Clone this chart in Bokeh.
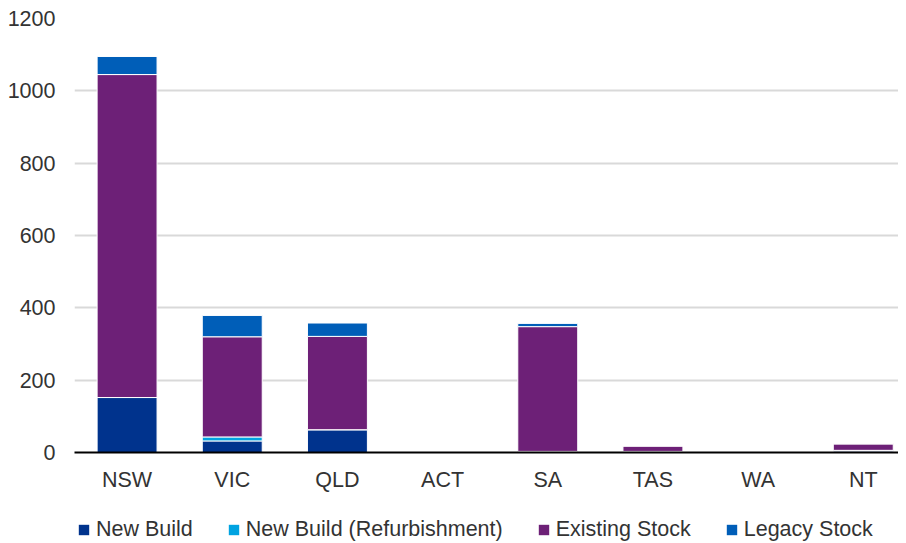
from bokeh.plotting import figure
from bokeh.layouts import column
from bokeh.models import Range1d, FixedTicker, Legend, LegendItem, ColumnDataSource
from bokeh.embed import file_html
from bokeh.resources import INLINE

categories = ["NSW", "VIC", "QLD", "ACT", "SA", "TAS", "WA", "NT"]
new_build = [152, 32, 63, 0, 3, 3, 0, 4]
new_build_refurb = [0, 11, 0, 0, 0, 0, 0, 2]
existing_stock = [893, 277, 258, 0, 345, 15, 0, 18]
legacy_stock = [50, 59, 37, 0, 9, 0, 0, 0]
series_names = ["New Build", "New Build (Refurbishment)", "Existing Stock", "Legacy Stock"]
y_ticks = [0, 200, 400, 600, 800, 1000, 1200]

colors = ["#00338D", "#00A3E1", "#6D2077", "#005EB8"]
keys = ["nb", "nbr", "ex", "lg"]
xs = list(range(len(categories)))

source = ColumnDataSource(dict(x=xs, nb=new_build, nbr=new_build_refurb,
                               ex=existing_stock, lg=legacy_stock))

FONT = "Liberation Sans"
TEXT_COLOR = "#333333"
FS = "21.5px"

p = figure(width=898, height=498, output_backend="svg", toolbar_location=None,
           x_range=Range1d(-0.5, 7.335), y_range=Range1d(0, 1200),
           min_border_left=74, min_border_top=18, min_border_bottom=46,
           min_border_right=0)
p.outline_line_color = None
p.background_fill_color = "white"

rs = p.vbar_stack(keys, x="x", width=0.57, source=source,
                  fill_color=colors, line_color="white", line_width=1)

# axes
p.xaxis.ticker = FixedTicker(ticks=xs)
p.xaxis.major_label_overrides = {i: c for i, c in enumerate(categories)}
p.xaxis.axis_line_color = "black"
p.xaxis.axis_line_width = 2
p.xaxis.major_tick_line_color = None
p.xaxis.major_tick_out = 0
p.xaxis.major_tick_in = 0
p.xaxis.minor_tick_line_color = None
p.xaxis.major_label_standoff = 15
p.xaxis.major_label_text_font = FONT
p.xaxis.major_label_text_font_size = FS
p.xaxis.major_label_text_color = TEXT_COLOR

p.yaxis.ticker = FixedTicker(ticks=y_ticks)
p.yaxis.axis_line_color = None
p.yaxis.major_tick_line_color = None
p.yaxis.major_tick_out = 0
p.yaxis.major_tick_in = 0
p.yaxis.minor_tick_line_color = None
p.yaxis.major_label_standoff = 19
p.yaxis.major_label_text_font = FONT
p.yaxis.major_label_text_font_size = FS
p.yaxis.major_label_text_color = TEXT_COLOR

p.xgrid.grid_line_color = None
p.ygrid.grid_line_color = "#d9d9d9"
p.ygrid.grid_line_width = 2

# legend strip (separate figure so the legend sits below the axis)
pl = figure(width=898, height=45, output_backend="svg", toolbar_location=None,
            x_range=Range1d(0, 1), y_range=Range1d(0, 1),
            min_border_left=0, min_border_right=0, min_border_top=0,
            min_border_bottom=0, x_axis_type=None, y_axis_type=None)
pl.outline_line_color = None
pl.grid.visible = False
lrs = pl.vbar_stack(keys, x="x", width=0.57, source=source,
                    fill_color=colors, line_color=None, visible=False)

legend = Legend(items=[LegendItem(label=n, renderers=[r]) for n, r in zip(series_names, lrs)],
                orientation="horizontal", location=(3, 1),
                glyph_width=13, glyph_height=13, label_standoff=6, spacing=34,
                label_text_font=FONT, label_text_font_size=FS,
                label_text_color=TEXT_COLOR, border_line_color=None,
                background_fill_alpha=0, padding=0, margin=0)
pl.add_layout(legend, "center")

layout = column(p, pl, spacing=0)
open("out.html", "w").write(file_html(layout, INLINE))
